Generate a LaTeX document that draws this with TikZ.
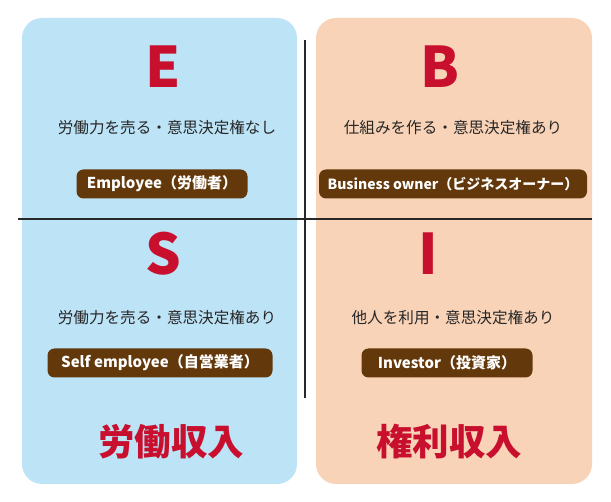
\documentclass[tikz,border=0pt]{standalone}
\usepackage{fontspec}
\setmainfont{Noto Sans CJK JP}
\usetikzlibrary{calc}

\definecolor{quadblue}{RGB}{189,227,247}
\definecolor{quadpeach}{RGB}{249,211,184}
\definecolor{quadred}{RGB}{200,16,46}
\definecolor{badgebrown}{RGB}{99,56,10}
\definecolor{axisgray}{RGB}{40,40,40}

\tikzset{
  bigletter/.style={font=\fontsize{56}{56}\selectfont\bfseries, text=quadred, inner sep=0pt},
  desc/.style={font=\fontsize{15.6}{16}\selectfont, text=black!85, inner sep=0pt},
  badge/.style={fill=badgebrown, text=white, rounded corners=7pt, minimum height=29pt,
    inner sep=0pt, font=\fontsize{15}{16}\selectfont\bfseries},
  income/.style={font=\fontsize{36.5}{37}\selectfont\bfseries, text=quadred, inner sep=0pt}
}

\begin{document}
\begin{tikzpicture}[x=1pt, y=-1pt]
\useasboundingbox (0,0) rectangle (611,502);

% Define dimensions
\def\rr{20}   % corner radius of the panels
\def\mx{305}  % vertical axis
\def\my{219}  % horizontal axis

% Panel corners
\coordinate (L1) at (22,18);
\coordinate (L2) at (297,484);
\coordinate (R1) at (316,18);
\coordinate (R2) at (592,484);

% Draw panels
\fill[quadblue, rounded corners=\rr pt] (L1) rectangle (L2);
\fill[quadpeach, rounded corners=\rr pt] (R1) rectangle (R2);

% Draw axes
\draw[line width=1.6pt, axisgray] (18,\my) -- (592,\my);
\draw[line width=1.6pt, axisgray] (\mx,40) -- (\mx,398);

% Quadrant letters
\node[bigletter] (E) at (163,67) {E};
\node[bigletter] (B) at (440,67) {B};
\node[bigletter] (S) at (163,254) {S};
\node[bigletter] (I) at (428,254) {I};

% Descriptions
\node[desc] (Edesc) at (167,128) {労働力を売る・意思決定権なし};
\node[desc] (Bdesc) at (453,128) {仕組みを作る・意思決定権あり};
\node[desc] (Sdesc) at (167,318) {労働力を売る・意思決定権あり};
\node[desc] (Idesc) at (453,318) {他人を利用・意思決定権あり};

% Badges
\node[badge, minimum width=171pt] (Ebadge) at (162,184) {Employee（労働者）};
\node[badge, minimum width=268pt, font=\fontsize{14}{15}\selectfont\bfseries]
  (Bbadge) at (453,184) {Business owner（ビジネスオーナー）};
\node[badge, minimum width=225pt] (Sbadge) at (160,363) {Self employee（自営業者）};
\node[badge, minimum width=171pt] (Ibadge) at (447,363) {Investor（投資家）};

% Income labels
\node[income] (labor) at (171,442) {労働収入};
\node[income] (rights) at (449,442) {権利収入};

\end{tikzpicture}
\end{document}
